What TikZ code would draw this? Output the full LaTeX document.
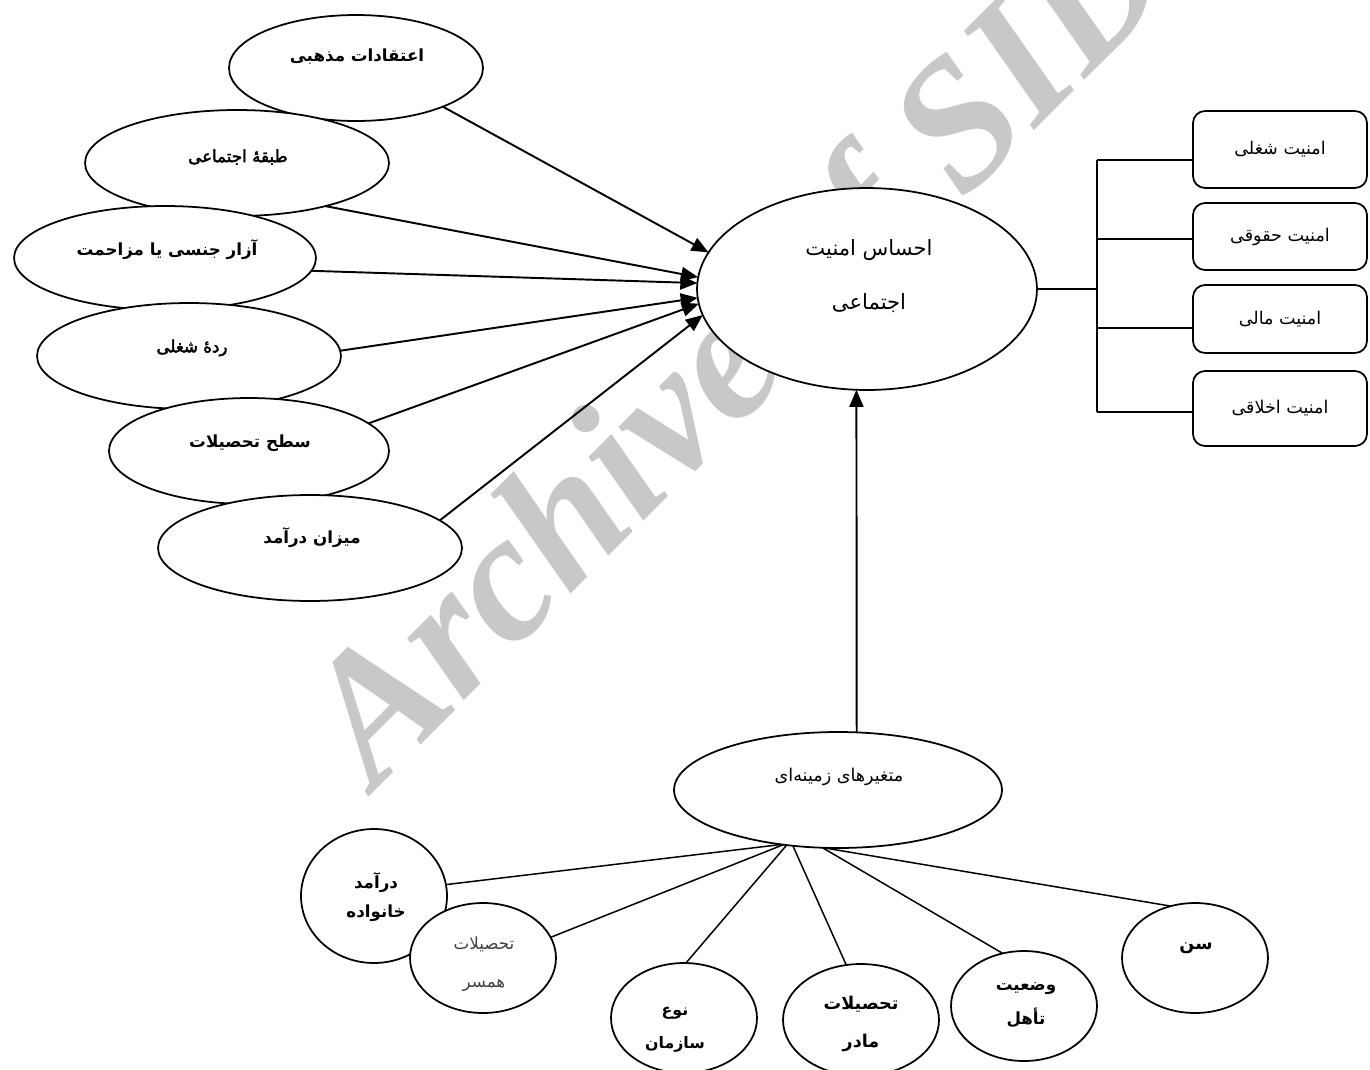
\documentclass[tikz,border=0pt]{standalone}
\usepackage{fontspec}
\usetikzlibrary{arrows.meta,shapes.geometric}
\newfontfamily\fa[Script=Arabic]{DejaVu Sans}
\newfontfamily\fab[Script=Arabic,FakeBold=2.5]{DejaVu Sans}
\newfontfamily\wmfont{Liberation Serif}
\TeXXeTstate=1
\definecolor{wmgray}{RGB}{200,200,200}
\begin{document}
\begin{tikzpicture}[x=0.02cm,y=-0.02cm,
  ell/.style={draw,ellipse,fill=white,line width=1pt,inner sep=0pt,outer sep=0pt},
  box/.style={draw,rounded corners=0.24cm,fill=white,line width=1pt,inner sep=0pt,outer sep=0pt,minimum width=3.48cm,font=\fa\fontsize{10}{12}\selectfont},
  lbl/.style={font=\fa\bfseries\fontsize{9.5}{12}\selectfont,inner sep=0pt},
  reg/.style={font=\fa\fontsize{10}{12}\selectfont,inner sep=0pt},
  arr/.style={-{Triangle[length=0.34cm,width=0.28cm]},line width=1.1pt},
  ln/.style={line width=0.85pt}]
\useasboundingbox (0,0) rectangle (1370,1069);
% watermark
\node[rotate=45,anchor=base west,inner sep=0pt,outer sep=0pt,text=wmgray,font=\wmfont\bfseries\itshape\fontsize{104}{104}\selectfont] (wm) at (375,790) {Archive of SID};
% left ellipses
\node[ell,minimum width=5.08cm,minimum height=2.12cm] (n1) at (356,68) {};
\node[ell,minimum width=6.08cm,minimum height=2.12cm] (n2) at (237,163) {};
\node[ell,minimum width=6.04cm,minimum height=2.08cm] (n3) at (165,258) {};
\node[ell,minimum width=6.08cm,minimum height=2.12cm] (n4) at (189,356) {};
\node[ell,minimum width=5.6cm,minimum height=2.12cm] (n5) at (249,451) {};
\node[ell,minimum width=6.08cm,minimum height=2.12cm] (n6) at (310,548) {};
\node[lbl] (t1) at (357,57) {\beginR اعتقادات مذهبی\endR};
\node[lbl,font=\fab\fontsize{9.5}{12}\selectfont] (t2) at (238,157) {\beginR طبقهٔ اجتماعی\endR};
\node[lbl] (t3) at (167,250) {\beginR آزار جنسی یا مزاحمت\endR};
\node[lbl,font=\fab\fontsize{9.5}{12}\selectfont] (t4) at (192,348) {\beginR ردهٔ شغلی\endR};
\node[lbl] (t5) at (250,443) {\beginR سطح تحصیلات\endR};
\node[lbl] (t6) at (312,538) {\beginR میزان درآمد\endR};
% main
\node[ell,minimum width=6.8cm,minimum height=4.04cm] (main) at (867,289) {};
\node[reg,font=\fa\fontsize{12}{30.6}\selectfont,align=center] (mainT) at (869,276) {\beginR احساس امنیت\endR\\\beginR اجتماعی\endR};
% arrows
\draw[arr] (n1.336) -- (main.167);
\draw[arr] (n2.334) -- (main.176);
\draw[arr] (n3.355) -- (main.178);
\draw[arr] (n4.2) -- (main.183);
\draw[arr] (n5.13) -- (main.185);
\draw[arr] (n6.12) -- (main.189);
% right boxes
\node[box,minimum height=1.54cm] (b1) at (1280,149.5) {\beginR امنیت شغلی\endR};
\node[box,minimum height=1.34cm] (b2) at (1280,236.5) {\beginR امنیت حقوقی\endR};
\node[box,minimum height=1.36cm] (b3) at (1280,319) {\beginR امنیت مالی\endR};
\node[box,minimum height=1.5cm] (b4) at (1280,408.5) {\beginR امنیت اخلاقی\endR};
\coordinate (j0) at (1097,289);
\coordinate (k1) at (1097,160);
\coordinate (k2) at (1097,239);
\coordinate (k3) at (1097,328);
\coordinate (k4) at (1097,412);
\draw[ln] (main.east) -- (j0);
\draw[ln] (k1) -- (k4);
\draw[ln] (k1) -- (k1 -| b1.west);
\draw[ln] (k2) -- (k2 -| b2.west);
\draw[ln] (k3) -- (k3 -| b3.west);
\draw[ln] (k4) -- (k4 -| b4.west);
% context
\node[ell,minimum width=6.56cm,minimum height=2.32cm] (ctx) at (838,790) {};
\node[reg] (ctxT) at (839,777) {\beginR متغیرهای زمینه‌ای\endR};
\draw[arr] (ctx.72) -- (main.264);
% bottom ellipses
\node[ell,minimum width=2.92cm,minimum height=2.68cm] (c1) at (374,896) {};
\node[ell,minimum width=2.92cm,minimum height=2.2cm] (c2) at (483,958) {};
\node[ell,minimum width=2.92cm,minimum height=2.2cm] (c3) at (684,1018) {};
\node[ell,minimum width=3.12cm,minimum height=2.24cm] (c4) at (861,1020) {};
\node[ell,minimum width=2.92cm,minimum height=2.2cm] (c5) at (1024,1006) {};
\node[ell,minimum width=2.92cm,minimum height=2.2cm] (c6) at (1195,958) {};
\node[lbl,font=\fa\bfseries\fontsize{9.5}{17}\selectfont,align=center] (c1T) at (376,897) {\beginR درآمد\endR\\\beginR خانواده\endR};
\node[reg,font=\fa\fontsize{9.5}{21.5}\selectfont,align=center,text=black!75] (c2T) at (484,964) {\beginR تحصیلات\endR\\\beginR همسر\endR};
\node[lbl,font=\fa\bfseries\fontsize{9}{18.7}\selectfont,align=center] (c3T) at (675,1030) {\beginR نوع\endR\\\beginR سازمان\endR};
\node[lbl,font=\fa\bfseries\fontsize{10}{21.5}\selectfont,align=center] (c4T) at (861,1024) {\beginR تحصیلات\endR\\\beginR مادر\endR};
\node[lbl,font=\fa\bfseries\fontsize{9.5}{19}\selectfont,align=center] (c5T) at (1026,1005) {\beginR وضعیت\endR\\\beginR تأهل\endR};
\node[lbl,font=\fa\bfseries\fontsize{10}{12}\selectfont] (c6T) at (1196,948) {\beginR سن\endR};
\draw[ln] (ctx.224) -- (c1.9);
\draw[ln] (ctx.225) -- (c2.17);
\draw[ln] (ctx.227) -- (c3.88);
\draw[ln] (ctx.231) -- (c4.105);
\draw[ln] (ctx.255) -- (c5.112);
\draw[ln] (ctx.256) -- (c6.115);
\end{tikzpicture}
\end{document}
